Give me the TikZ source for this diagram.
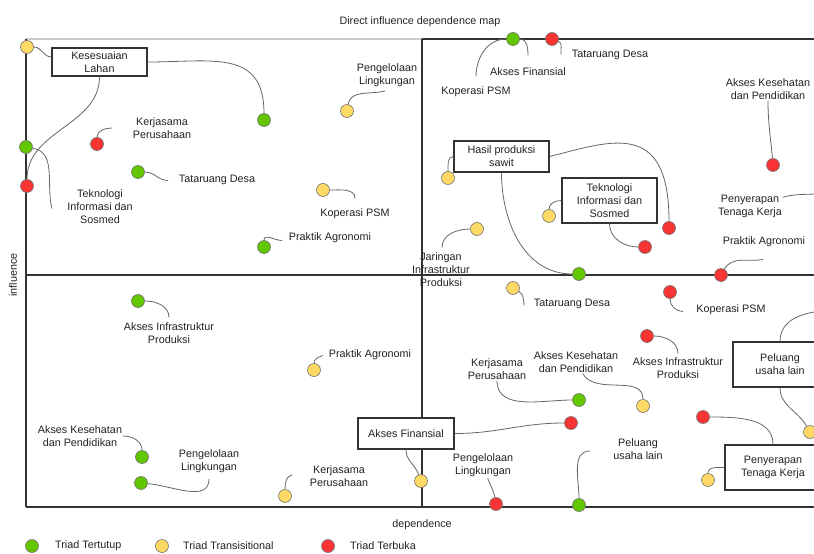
\documentclass[tikz,border=0pt]{standalone}
\usepackage{fontspec}
\setmainfont{Liberation Sans}
\usepackage{xcolor}
\usepackage{tikz}
\definecolor{TriadGreen}{HTML}{62C600}
\definecolor{TriadYellow}{HTML}{FFD966}
\definecolor{TriadRed}{HTML}{F83434}
\definecolor{LineGray}{HTML}{333333}
\definecolor{TextGray}{HTML}{222222}

\begin{document}
\begin{tikzpicture}[
    x=1pt, y=-1pt,
    every node/.style={align=center, font=\fontsize{10.8}{13}\selectfont, text=TextGray},
    dot/.style={circle, draw=black!55, line width=0.6pt, minimum size=13pt, inner sep=0pt},
    tertutup/.style={dot, fill=TriadGreen},
    transisi/.style={dot, fill=TriadYellow},
    terbuka/.style={dot, fill=TriadRed},
    box/.style={draw=LineGray, fill=white, line width=1.3pt, inner sep=0pt},
    lbl/.style={inner sep=1pt, yshift=-1.5pt},
    conn/.style={draw=black!60, line width=0.8pt},
    axis/.style={draw=LineGray, line width=1.6pt}
  ]
  \useasboundingbox (0,0) rectangle (814,554);
  \clip (0,0) rectangle (814,554);

  % Frame and quadrants
  \draw[black!20, line width=1.4pt] (26,39) -- (422,39);
  \draw[axis] (422,39) -- (830,39);
  \draw[axis, line width=1.3pt] (26,39) -- (26,507);
  \draw[axis] (26,275) -- (830,275);
  \draw[axis] (422,39) -- (422,507);
  \draw[axis] (26,507) -- (830,507);

  % Titles
  \node[lbl] (title) at (420,20) {Direct influence dependence map};
  \node[lbl] (xlab) at (422,523) {dependence};
  \node[rotate=90] (ylab) at (13,275) {influence};

  % Boxes
  \node[box, minimum width=95pt, minimum height=28pt] (kesesuaian) at (99.5,62) {Kesesuaian\\Lahan};
  \node[box, minimum width=95pt, minimum height=31pt] (hasil) at (501.5,156.5) {Hasil produksi\\sawit};
  \node[box, minimum width=95pt, minimum height=45pt] (teknologi2) at (609.5,200.5) {Teknologi\\Informasi dan\\Sosmed};
  \node[box, minimum width=96pt, minimum height=31pt] (finansial) at (406,433.5) {Akses Finansial};
  \node[box, minimum width=94pt, minimum height=45pt] (peluang) at (780,364.5) {Peluang\\usaha lain};
  \node[box, minimum width=96pt, minimum height=45pt] (penyerapan) at (773,467.5) {Penyerapan\\Tenaga Kerja};

  % Labels
  \node[lbl] (teknologi1) at (100,205) {Teknologi\\Informasi dan\\Sosmed};
  \node[lbl] (kerjasama1) at (162,126.5) {Kerjasama\\Perusahaan};
  \node[lbl] (tataruang1) at (217,178) {Tataruang Desa};
  \node[lbl] (pengelolaan1) at (387,73.5) {Pengelolaan\\Lingkungan};
  \node[lbl] (koperasi1) at (355,212) {Koperasi PSM};
  \node[lbl] (praktik1) at (330,236) {Praktik Agronomi};
  \node[lbl] (koperasi2) at (476,90) {Koperasi PSM};
  \node[lbl] (finansial1) at (528,70) {Akses Finansial};
  \node[lbl] (tataruang2) at (610,53) {Tataruang Desa};
  \node[lbl] (kesehatan1) at (768,87.5) {Akses Kesehatan\\dan Pendidikan};
  \node[lbl] (penyerapan1) at (750,204.5) {Penyerapan\\Tenaga Kerja};
  \node[lbl] (praktik2) at (764,240) {Praktik Agronomi};
  \node[lbl] (jaringan) at (441,268) {Jaringan\\Infrastruktur\\Produksi};
  \node[lbl] (tataruang3) at (572,302) {Tataruang Desa};
  \node[lbl] (koperasi3) at (731,308) {Koperasi PSM};
  \node[lbl] (infrastruktur2) at (678,367) {Akses Infrastruktur\\Produksi};
  \node[lbl] (kerjasama2) at (497,367.5) {Kerjasama\\Perusahaan};
  \node[lbl] (kesehatan2) at (576,360.5) {Akses Kesehatan\\dan Pendidikan};
  \node[lbl] (pengelolaan2) at (483,464) {Pengelolaan\\Lingkungan};
  \node[lbl] (peluang1) at (638,447.5) {Peluang\\usaha lain};
  \node[lbl] (infrastruktur1) at (169,332) {Akses Infrastruktur\\Produksi};
  \node[lbl] (praktik3) at (370,353) {Praktik Agronomi};
  \node[lbl] (kesehatan3) at (80,434.5) {Akses Kesehatan\\dan Pendidikan};
  \node[lbl] (pengelolaan3) at (209,459.5) {Pengelolaan\\Lingkungan};
  \node[lbl] (kerjasama3) at (339,474.5) {Kerjasama\\Perusahaan};

  % Triad dots
  \node[transisi] (ts1) at (27,47) {};
  \node[tertutup] (tt1) at (264,120) {};
  \node[terbuka] (tb1) at (27,186) {};
  \node[tertutup] (tt2) at (26,147) {};
  \node[terbuka] (tb2) at (97,144) {};
  \node[tertutup] (tt3) at (138,172) {};
  \node[transisi] (ts2) at (347,111) {};
  \node[transisi] (ts3) at (323,190) {};
  \node[tertutup] (tt4) at (264,247) {};
  \node[tertutup] (tt5) at (513,39) {};
  \node[terbuka] (tb3) at (552,39) {};
  \node[terbuka] (tb4) at (773,165) {};
  \node[terbuka] (tb5) at (721,275) {};
  \node[transisi] (ts4) at (448,178) {};
  \node[terbuka] (tb6) at (669,228) {};
  \node[tertutup] (tt6) at (579,274) {};
  \node[transisi] (ts5) at (549,216) {};
  \node[terbuka] (tb7) at (645,247) {};
  \node[transisi] (ts6) at (477,229) {};
  \node[transisi] (ts7) at (513,288) {};
  \node[terbuka] (tb8) at (670,292) {};
  \node[terbuka] (tb9) at (647,336) {};
  \node[tertutup] (tt7) at (579,400) {};
  \node[transisi] (ts8) at (643,406) {};
  \node[terbuka] (tb10) at (571,423) {};
  \node[transisi] (ts9) at (421,481) {};
  \node[terbuka] (tb11) at (496,504) {};
  \node[tertutup] (tt8) at (579,505) {};
  \node[terbuka] (tb12) at (703,417) {};
  \node[transisi] (ts10) at (708,480) {};
  \node[transisi] (ts11) at (810,432) {};
  \node[tertutup] (tt9) at (138,301) {};
  \node[transisi] (ts12) at (314,370) {};
  \node[tertutup] (tt10) at (142,457) {};
  \node[tertutup] (tt11) at (141,483) {};
  \node[transisi] (ts13) at (285,496) {};
  \coordinate (offPenyerapan) at (835,190);
  \coordinate (offPeluang) at (840,310);

  % Connectors, upper left
  \draw[conn] (ts1) to[out=0,in=180] ([shift={(0,-5)}]kesesuaian.west);
  \draw[conn] (kesesuaian.east) to[out=0,in=90,looseness=1.3] (tt1);
  \draw[conn] (kesesuaian.south) to[out=-90,in=90] (tb1);
  \draw[conn] (tt2) to[out=-10,in=105] ([shift={(-48,2)}]teknologi1);
  \draw[conn] (tb2) to[out=90,in=180] ([shift={(-50,0)}]kerjasama1);
  \draw[conn] (tt3) to[out=0,in=180] ([shift={(-49,1)}]tataruang1);
  \draw[conn] (ts2) to[out=80,in=195] ([shift={(-2,16)}]pengelolaan1);
  \draw[conn] (ts3) to[out=0,in=90] ([shift={(0,-15)}]koperasi1);
  \draw[conn] (tt4) to[out=90,in=180] ([shift={(-48,3)}]praktik1);

  % Connectors, upper right
  \draw[conn] (tt5) to[out=180,in=90] ([shift={(0,-15)}]koperasi2);
  \draw[conn] (tt5) to[out=0,in=90] ([shift={(0,-16)}]finansial1);
  \draw[conn] (tb3) to[out=-20,in=100] ([shift={(-49,0)}]tataruang2);
  \draw[conn] ([shift={(0,25)}]kesehatan1) to[out=-90,in=95] (tb4);
  \draw[conn] ([shift={(50,3)}]penyerapan1) to[out=15,in=200] (offPenyerapan);
  \draw[conn] (tb5) to[out=60,in=190] ([shift={(-1,18)}]praktik2);
  \draw[conn] (hasil.west) to[out=180,in=90] (ts4);
  \draw[conn] (hasil.east) .. controls +(60,-15) and +(0,-110) .. (tb6);
  \draw[conn] (hasil.south) to[out=-90,in=180] (tt6);
  \draw[conn] (teknologi2.west) to[out=180,in=90] (ts5);
  \draw[conn] (teknologi2.south) to[out=-90,in=180] (tb7);
  \draw[conn] (ts6) to[out=180,in=90] ([shift={(1,-22)}]jaringan);

  % Connectors, lower right
  \draw[conn] (ts7) to[out=-30,in=95] ([shift={(-48,2)}]tataruang3);
  \draw[conn] (tb8) to[out=-90,in=180] ([shift={(-48,2)}]koperasi3);
  \draw[conn] (tb9) to[out=0,in=90] ([shift={(0,-15)}]infrastruktur2);
  \draw[conn] ([shift={(0,18)}]kerjasama2) to[out=-90,in=180] (tt7);
  \draw[conn] ([shift={(27,23)}]kesehatan2) to[out=-60,in=90] (ts8);
  \draw[conn] (finansial.east) to[out=0,in=180] (tb10);
  \draw[conn] (finansial.south) to[out=-90,in=110] (ts9);
  \draw[conn] ([shift={(5,18)}]pengelolaan2) to[out=-70,in=100] (tb11);
  \draw[conn] (tt8) to[out=90,in=180] ([shift={(-48,2)}]peluang1);
  \draw[conn] (tb12) to[out=0,in=90] (penyerapan.north);
  \draw[conn] (penyerapan.west) to[out=180,in=90] (ts10);
  \draw[conn] (peluang.south) to[out=-90,in=120] (ts11);
  \draw[conn] (peluang.north) to[out=90,in=180] (offPeluang);

  % Connectors, lower left
  \draw[conn] (tt9) to[out=0,in=90] ([shift={(0,-16)}]infrastruktur1);
  \draw[conn] (ts12) to[out=90,in=200] ([shift={(-47,1)}]praktik3);
  \draw[conn] ([shift={(49,2)}]kesehatan3) to[out=0,in=90] (tt10);
  \draw[conn] (tt11) to[out=-5,in=-90] ([shift={(0,18)}]pengelolaan3);
  \draw[conn] (ts13) to[out=90,in=190] ([shift={(-47,-1)}]kerjasama3);

  % Legend
  \node[tertutup] (legTT) at (32,546) {};
  \node[lbl, anchor=west] (legTTtext) at (54,544.5) {Triad Tertutup};
  \node[transisi] (legTS) at (162,546) {};
  \node[lbl, anchor=west] (legTStext) at (182,544.5) {Triad Transisitional};
  \node[terbuka] (legTB) at (328,546) {};
  \node[lbl, anchor=west] (legTBtext) at (349,544.5) {Triad Terbuka};
\end{tikzpicture}
\end{document}
